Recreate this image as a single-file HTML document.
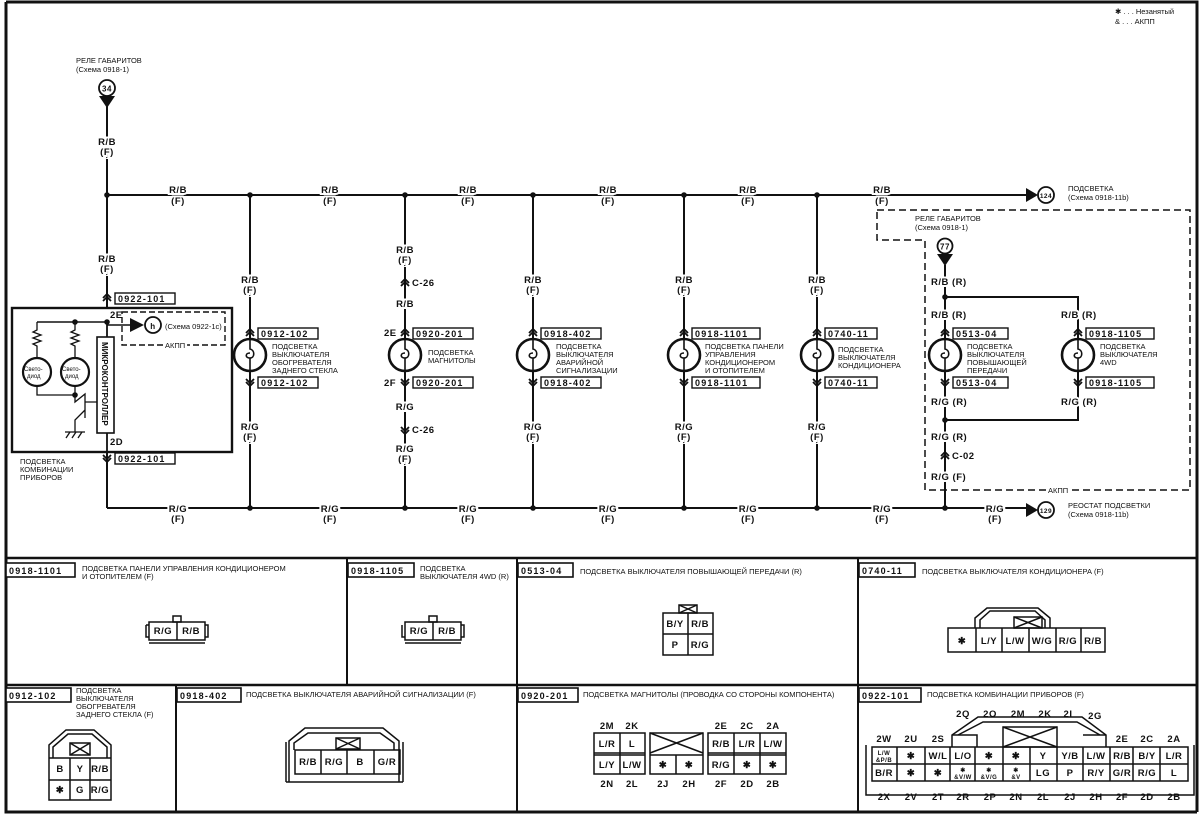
<!DOCTYPE html>
<html><head><meta charset="utf-8"><style>
html,body{margin:0;padding:0;background:#fff}
svg{display:block}
text{font-family:"Liberation Sans",sans-serif;fill:#111}
.c{font-weight:bold;font-size:9.5px;letter-spacing:0.5px}
.s{font-size:7.5px}
.k{font-weight:bold;font-size:9px;letter-spacing:1.2px}
</style></head><body>
<svg width="1200" height="814" viewBox="0 0 1200 814" xmlns="http://www.w3.org/2000/svg">
<defs>
<g id="up"><path d="M-4,3 L0,-1 L4,3 M-4,0 L0,-4 L4,0" fill="none" stroke="#111" stroke-width="1.8"/></g>
<g id="dn"><path d="M-4,-3 L0,1 L4,-3 M-4,0 L0,4 L4,0" fill="none" stroke="#111" stroke-width="1.8"/></g>
<g id="bulb"><circle r="16" fill="#fff" stroke="#111" stroke-width="2.6"/><path d="M0,-16 L0,-6 C5,-5 5,3 0,3 C-5,3 -5,-2 0,-2 M0,3 L0,16" fill="none" stroke="#111" stroke-width="1.6"/></g>
<g id="dot"><circle r="2.8" fill="#111"/></g>
</defs>
<g fill="none" stroke="#111">
<path d="M6,2 L1197,2 L1197,812 M6,2 L6,812 L1197,812" stroke-width="3"/>
<line x1="6" y1="558" x2="1197" y2="558" stroke-width="2.5"/>
<line x1="6" y1="685" x2="1197" y2="685" stroke-width="2.5"/>
<line x1="347" y1="558" x2="347" y2="685" stroke-width="2"/>
<line x1="517" y1="558" x2="517" y2="812" stroke-width="2"/>
<line x1="858" y1="558" x2="858" y2="812" stroke-width="2"/>
<line x1="176" y1="685" x2="176" y2="812" stroke-width="2"/>

<g stroke-width="2">
<line x1="107" y1="100" x2="107" y2="308"/>
<line x1="107" y1="452" x2="107" y2="508"/>
<line x1="107" y1="195" x2="1030" y2="195"/>
<line x1="107" y1="508" x2="1030" y2="508"/>
<line x1="250" y1="195" x2="250" y2="508"/>
<line x1="405" y1="195" x2="405" y2="508"/>
<line x1="533" y1="195" x2="533" y2="508"/>
<line x1="684" y1="195" x2="684" y2="508"/>
<line x1="817" y1="195" x2="817" y2="508"/>
<line x1="945" y1="265" x2="945" y2="508"/>
<polyline points="945,297 1078,297 1078,420 945,420"/>
</g>
<path d="M877,210 L1190,210 L1190,490 L925,490 L925,240 L877,240 Z" stroke-width="1.5" stroke-dasharray="7,4"/>
<rect x="12" y="308" width="220" height="144" stroke-width="2.4"/>
<rect x="97" y="337" width="17" height="96" stroke-width="1.6" fill="#fff"/>
<rect x="122" y="312" width="103" height="33" stroke-width="1.4" stroke-dasharray="6,3"/>
<polyline points="37,322 107,322" stroke-width="1.4"/>
<line x1="107" y1="322" x2="107" y2="337" stroke-width="1.8"/>
<line x1="107" y1="433" x2="107" y2="452" stroke-width="1.8"/>
<line x1="107" y1="325" x2="130" y2="325" stroke-width="1.4"/>
<path d="M37,322 L37,330 L33,332 L41,335 L33,338 L41,341 L33,344 L37,346 L37,358 M75,322 L75,330 L71,332 L79,335 L71,338 L79,341 L71,344 L75,346 L75,358" stroke-width="1.3"/>
<circle cx="37" cy="372" r="14" stroke-width="2.2"/>
<circle cx="75" cy="372" r="14" stroke-width="2.2"/>
<path d="M37,386 L37,395 L75,395 M75,386 L75,402 L85,394 L85,418 M85,402 L97,402 M85,410 L75,420 L75,432 M65,432 L85,432 M66,438 L70,432 M72,438 L76,432 M78,438 L82,432" stroke-width="1.3"/>
<circle cx="153" cy="325" r="8" stroke-width="1.8"/>
<circle cx="107" cy="88" r="8" stroke-width="1.8"/>
<circle cx="945" cy="246" r="7.5" stroke-width="1.8"/>
<circle cx="1046" cy="195" r="8" stroke-width="1.8"/>
<circle cx="1046" cy="510" r="8" stroke-width="1.8"/>
</g>
<g fill="#111">
<path d="M99,96 L115,96 L107,108 Z"/>
<path d="M937,254 L953,254 L945,266 Z"/>
<path d="M1026,188 L1038,195 L1026,202 Z"/>
<path d="M1026,503 L1038,510 L1026,517 Z"/>
<path d="M130,318 L144,325 L130,332 Z"/>
</g>
<use href="#dot" x="107" y="195"/><use href="#dot" x="250" y="195"/><use href="#dot" x="405" y="195"/><use href="#dot" x="533" y="195"/><use href="#dot" x="684" y="195"/><use href="#dot" x="817" y="195"/>
<use href="#dot" x="250" y="508"/><use href="#dot" x="405" y="508"/><use href="#dot" x="533" y="508"/><use href="#dot" x="684" y="508"/><use href="#dot" x="817" y="508"/><use href="#dot" x="945" y="508"/>
<use href="#dot" x="945" y="297"/><use href="#dot" x="945" y="420"/><use href="#dot" x="75" y="322"/><use href="#dot" x="107" y="322"/><use href="#dot" x="75" y="395"/>
<use href="#bulb" x="250" y="355"/><use href="#bulb" x="405" y="355"/><use href="#bulb" x="533" y="355"/><use href="#bulb" x="684" y="355"/><use href="#bulb" x="817" y="355"/><use href="#bulb" x="945" y="355"/><use href="#bulb" x="1078" y="355"/>
<use href="#up" x="107" y="298"/><use href="#dn" x="107" y="458"/>
<use href="#up" x="250" y="333"/><use href="#dn" x="250" y="382"/>
<use href="#up" x="405" y="283"/><use href="#up" x="405" y="333"/><use href="#dn" x="405" y="382"/><use href="#dn" x="405" y="430"/>
<use href="#up" x="533" y="333"/><use href="#dn" x="533" y="382"/>
<use href="#up" x="684" y="333"/><use href="#dn" x="684" y="382"/>
<use href="#up" x="817" y="333"/><use href="#dn" x="817" y="382"/>
<use href="#up" x="945" y="333"/><use href="#dn" x="945" y="382"/>
<use href="#up" x="1078" y="333"/><use href="#dn" x="1078" y="382"/>
<use href="#up" x="945" y="456"/>
<g fill="#fff" stroke="#111" stroke-width="1.4">
<rect x="115" y="293" width="60" height="11"/><rect x="115" y="453" width="60" height="11"/>
<rect x="258" y="328" width="60" height="11"/><rect x="258" y="377" width="60" height="11"/>
<rect x="413" y="328" width="60" height="11"/><rect x="413" y="377" width="60" height="11"/>
<rect x="541" y="328" width="60" height="11"/><rect x="541" y="377" width="60" height="11"/>
<rect x="692" y="328" width="68" height="11"/><rect x="692" y="377" width="68" height="11"/>
<rect x="825" y="328" width="52" height="11"/><rect x="825" y="377" width="52" height="11"/>
<rect x="953" y="328" width="55" height="11"/><rect x="953" y="377" width="55" height="11"/>
<rect x="1086" y="328" width="68" height="11"/><rect x="1086" y="377" width="68" height="11"/>
</g>
<g class="k">
<text x="118" y="302">0922-101</text><text x="118" y="462">0922-101</text>
<text x="261" y="337">0912-102</text><text x="261" y="386">0912-102</text>
<text x="416" y="337">0920-201</text><text x="416" y="386">0920-201</text>
<text x="544" y="337">0918-402</text><text x="544" y="386">0918-402</text>
<text x="695" y="337">0918-1101</text><text x="695" y="386">0918-1101</text>
<text x="828" y="337">0740-11</text><text x="828" y="386">0740-11</text>
<text x="956" y="337">0513-04</text><text x="956" y="386">0513-04</text>
<text x="1089" y="337">0918-1105</text><text x="1089" y="386">0918-1105</text>
</g>
<g class="c" text-anchor="middle" stroke="#fff" stroke-width="4" paint-order="stroke">
<text x="107" y="145">R/B</text><text x="107" y="155">(F)</text>
<text x="107" y="262">R/B</text><text x="107" y="272">(F)</text>
<text x="178" y="193">R/B</text><text x="178" y="204">(F)</text>
<text x="330" y="193">R/B</text><text x="330" y="204">(F)</text>
<text x="468" y="193">R/B</text><text x="468" y="204">(F)</text>
<text x="608" y="193">R/B</text><text x="608" y="204">(F)</text>
<text x="748" y="193">R/B</text><text x="748" y="204">(F)</text>
<text x="882" y="193">R/B</text><text x="882" y="204">(F)</text>
<text x="178" y="512">R/G</text><text x="178" y="522">(F)</text>
<text x="330" y="512">R/G</text><text x="330" y="522">(F)</text>
<text x="468" y="512">R/G</text><text x="468" y="522">(F)</text>
<text x="608" y="512">R/G</text><text x="608" y="522">(F)</text>
<text x="748" y="512">R/G</text><text x="748" y="522">(F)</text>
<text x="882" y="512">R/G</text><text x="882" y="522">(F)</text>
<text x="995" y="512">R/G</text><text x="995" y="522">(F)</text>
<text x="250" y="283">R/B</text><text x="250" y="293">(F)</text>
<text x="250" y="430">R/G</text><text x="250" y="440">(F)</text>
<text x="405" y="253">R/B</text><text x="405" y="263">(F)</text>
<text x="405" y="307">R/B</text>
<text x="405" y="410">R/G</text>
<text x="405" y="452">R/G</text><text x="405" y="462">(F)</text>
<text x="533" y="283">R/B</text><text x="533" y="293">(F)</text>
<text x="533" y="430">R/G</text><text x="533" y="440">(F)</text>
<text x="684" y="283">R/B</text><text x="684" y="293">(F)</text>
<text x="684" y="430">R/G</text><text x="684" y="440">(F)</text>
<text x="817" y="283">R/B</text><text x="817" y="293">(F)</text>
<text x="817" y="430">R/G</text><text x="817" y="440">(F)</text>
</g>
<g class="c" stroke="#fff" stroke-width="4" paint-order="stroke">
<text x="931" y="285">R/B (R)</text>
<text x="931" y="318">R/B (R)</text><text x="1061" y="318">R/B (R)</text>
<text x="931" y="405">R/G (R)</text><text x="1061" y="405">R/G (R)</text>
<text x="931" y="440">R/G (R)</text>
<text x="931" y="480">R/G (F)</text>
</g>
<g class="c">
<text x="412" y="286">C-26</text><text x="412" y="433">C-26</text>
<text x="952" y="459">C-02</text>
<text x="384" y="336">2E</text><text x="384" y="386">2F</text>
<text x="110" y="318">2E</text><text x="110" y="445">2D</text>
<text x="107" y="91.5" text-anchor="middle" font-size="8">34</text>
<text x="945" y="249.5" text-anchor="middle" font-size="8">77</text>
<text x="1046" y="198" text-anchor="middle" font-size="6.5">124</text>
<text x="1046" y="513" text-anchor="middle" font-size="6.5">129</text>
<text x="153" y="329" text-anchor="middle" font-size="8">h</text>
</g>
<g class="s">
<text x="76" y="63">РЕЛЕ ГАБАРИТОВ</text><text x="76" y="72">(Схема 0918-1)</text>
<text x="1068" y="191">ПОДСВЕТКА</text><text x="1068" y="200">(Схема 0918-11b)</text>
<text x="1068" y="508">РЕОСТАТ ПОДСВЕТКИ</text><text x="1068" y="517">(Схема 0918-11b)</text>
<text x="915" y="221">РЕЛЕ ГАБАРИТОВ</text><text x="915" y="230">(Схема 0918-1)</text>
<text x="1048" y="493" stroke="#fff" stroke-width="5" paint-order="stroke">АКПП</text>
<text x="165" y="329">(Схема 0922-1с)</text>
<text x="165" y="348" stroke="#fff" stroke-width="5" paint-order="stroke">АКПП</text>
<text x="20" y="464">ПОДСВЕТКА</text><text x="20" y="472">КОМБИНАЦИИ</text><text x="20" y="480">ПРИБОРОВ</text>
<text x="272" y="349">ПОДСВЕТКА</text><text x="272" y="357">ВЫКЛЮЧАТЕЛЯ</text><text x="272" y="365">ОБОГРЕВАТЕЛЯ</text><text x="272" y="373">ЗАДНЕГО СТЕКЛА</text>
<text x="428" y="355">ПОДСВЕТКА</text><text x="428" y="363">МАГНИТОЛЫ</text>
<text x="556" y="349">ПОДСВЕТКА</text><text x="556" y="357">ВЫКЛЮЧАТЕЛЯ</text><text x="556" y="365">АВАРИЙНОЙ</text><text x="556" y="373">СИГНАЛИЗАЦИИ</text>
<text x="705" y="349">ПОДСВЕТКА ПАНЕЛИ</text><text x="705" y="357">УПРАВЛЕНИЯ</text><text x="705" y="365">КОНДИЦИОНЕРОМ</text><text x="705" y="373">И ОТОПИТЕЛЕМ</text>
<text x="838" y="352">ПОДСВЕТКА</text><text x="838" y="360">ВЫКЛЮЧАТЕЛЯ</text><text x="838" y="368">КОНДИЦИОНЕРА</text>
<text x="967" y="349">ПОДСВЕТКА</text><text x="967" y="357">ВЫКЛЮЧАТЕЛЯ</text><text x="967" y="365">ПОВЫШАЮЩЕЙ</text><text x="967" y="373">ПЕРЕДАЧИ</text>
<text x="1100" y="349">ПОДСВЕТКА</text><text x="1100" y="357">ВЫКЛЮЧАТЕЛЯ</text><text x="1100" y="365">4WD</text>
<text x="1115" y="14">✱ . . . Незанятый</text><text x="1115" y="24">&amp; . . . АКПП</text>
<text x="24" y="371" font-size="6">Свето-</text><text x="27" y="378" font-size="6">диод</text>
<text x="62" y="371" font-size="6">Свето-</text><text x="65" y="378" font-size="6">диод</text>
</g>
<text transform="translate(102,342) rotate(90)" font-size="8" font-weight="bold">МИКРОКОНТРОЛЛЕР</text>

<g fill="#fff" stroke="#111" stroke-width="1.6">
<rect x="6" y="563" width="69" height="14"/><rect x="348" y="563" width="66" height="14"/>
<rect x="518" y="563" width="55" height="14"/><rect x="859" y="563" width="56" height="14"/>
<rect x="6" y="688" width="65" height="14"/><rect x="177" y="688" width="64" height="14"/>
<rect x="518" y="688" width="60" height="14"/><rect x="859" y="688" width="62" height="14"/>
</g>
<g class="k">
<text x="9" y="574">0918-1101</text><text x="351" y="574">0918-1105</text><text x="521" y="574">0513-04</text><text x="862" y="574">0740-11</text>
<text x="9" y="699">0912-102</text><text x="180" y="699">0918-402</text><text x="521" y="699">0920-201</text><text x="862" y="699">0922-101</text>
</g>
<g class="s">
<text x="82" y="571">ПОДСВЕТКА ПАНЕЛИ УПРАВЛЕНИЯ КОНДИЦИОНЕРОМ</text><text x="82" y="579">И ОТОПИТЕЛЕМ (F)</text>
<text x="420" y="571">ПОДСВЕТКА</text><text x="420" y="579">ВЫКЛЮЧАТЕЛЯ 4WD (R)</text>
<text x="580" y="574">ПОДСВЕТКА ВЫКЛЮЧАТЕЛЯ ПОВЫШАЮЩЕЙ ПЕРЕДАЧИ (R)</text>
<text x="922" y="574">ПОДСВЕТКА ВЫКЛЮЧАТЕЛЯ КОНДИЦИОНЕРА (F)</text>
<text x="76" y="693">ПОДСВЕТКА</text><text x="76" y="701">ВЫКЛЮЧАТЕЛЯ</text><text x="76" y="709">ОБОГРЕВАТЕЛЯ</text><text x="76" y="717">ЗАДНЕГО СТЕКЛА (F)</text>
<text x="246" y="697">ПОДСВЕТКА ВЫКЛЮЧАТЕЛЯ АВАРИЙНОЙ СИГНАЛИЗАЦИИ (F)</text>
<text x="583" y="697">ПОДСВЕТКА МАГНИТОЛЫ (ПРОВОДКА СО СТОРОНЫ КОМПОНЕНТА)</text>
<text x="927" y="697">ПОДСВЕТКА КОМБИНАЦИИ ПРИБОРОВ (F)</text>
</g>

<g fill="none" stroke="#111" stroke-width="1.5">
<rect x="149" y="622" width="56" height="18"/><line x1="177" y1="622" x2="177" y2="640"/><line x1="149" y1="643" x2="205" y2="643"/>
<rect x="173" y="616" width="8" height="6"/><path d="M146,625 L149,625 M146,625 L146,637 L149,637 M205,625 L208,625 L208,637 L205,637"/>
<rect x="405" y="622" width="56" height="18"/><line x1="433" y1="622" x2="433" y2="640"/><line x1="405" y1="643" x2="461" y2="643"/>
<rect x="429" y="616" width="8" height="6"/><path d="M402,625 L402,637 L405,637 M461,625 L464,625 L464,637 L461,637"/>
<rect x="663" y="613" width="50" height="42"/><line x1="688" y1="613" x2="688" y2="655"/><line x1="663" y1="634" x2="713" y2="634"/>
<rect x="679" y="605" width="18" height="8"/><path d="M679,605 L697,613 M697,605 L679,613"/>
<rect x="948" y="628" width="157" height="24"/>
<path d="M975,628 V618 L987,608 H1038 L1050,618 V628 M980,628 V620 L990,611 H1035 L1045,620 V628"/>
<line x1="976" y1="628" x2="976" y2="652"/><line x1="1002" y1="628" x2="1002" y2="652"/><line x1="1029" y1="628" x2="1029" y2="652"/><line x1="1056" y1="628" x2="1056" y2="652"/><line x1="1081" y1="628" x2="1081" y2="652"/>
<rect x="1014" y="617" width="28" height="11"/><path d="M1014,617 L1042,628 M1042,617 L1014,628"/>
<path d="M49,800 V745 L66,730 H94 L111,745 V800 Z M53,758 V747 L68,734 H92 L107,747 V758"/>
<line x1="49" y1="758" x2="111" y2="758"/><line x1="49" y1="780" x2="111" y2="780"/>
<line x1="70" y1="758" x2="70" y2="800"/><line x1="90" y1="758" x2="90" y2="800"/>
<rect x="70" y="743" width="20" height="12"/><path d="M70,743 L90,755 M90,743 L70,755"/>
<path d="M289,782 V741 L305,728 H383 L399,741 V782 Z M294,750 V743 L308,733 H380 L394,743 V750 M286,782 H403 M286,742 V782 M403,742 V782"/>
<rect x="295" y="750" width="105" height="24"/>
<line x1="321" y1="750" x2="321" y2="774"/><line x1="347" y1="750" x2="347" y2="774"/><line x1="374" y1="750" x2="374" y2="774"/>
<rect x="336" y="738" width="24" height="11"/><path d="M336,738 L360,749 M360,738 L336,749"/>
<rect x="594" y="733" width="51" height="41"/><line x1="620" y1="733" x2="620" y2="774"/><line x1="594" y1="753" x2="645" y2="753"/><line x1="594" y1="755" x2="645" y2="755"/>
<rect x="650" y="733" width="53" height="41"/><line x1="676" y1="755" x2="676" y2="774"/><line x1="650" y1="755" x2="703" y2="755"/><path d="M650,733 L703,753 M703,733 L650,753"/>
<rect x="708" y="733" width="78" height="41"/><line x1="734" y1="733" x2="734" y2="774"/><line x1="760" y1="733" x2="760" y2="774"/><line x1="708" y1="753" x2="786" y2="753"/><line x1="708" y1="755" x2="786" y2="755"/>
<rect x="872" y="747" width="316" height="34"/>
<path d="M866,745 V795 H1194 V745"/>
<path d="M952,747 V735 L978,717 H1082 L1106,735 V747 M958,735 L983,722 H1077 L1100,735"/>
<path d="M952,735 H977 V747 M1083,735 H1106"/>
<rect x="1003" y="727" width="54" height="20"/><path d="M1003,727 L1057,747 M1057,727 L1003,747"/>
<line x1="872" y1="764" x2="1188" y2="764"/>
<line x1="897" y1="747" x2="897" y2="781"/><line x1="925" y1="747" x2="925" y2="781"/><line x1="950" y1="747" x2="950" y2="781"/><line x1="975" y1="747" x2="975" y2="781"/><line x1="1003" y1="747" x2="1003" y2="781"/><line x1="1030" y1="747" x2="1030" y2="781"/><line x1="1057" y1="747" x2="1057" y2="781"/><line x1="1083" y1="747" x2="1083" y2="781"/><line x1="1110" y1="747" x2="1110" y2="781"/><line x1="1133" y1="747" x2="1133" y2="781"/><line x1="1160" y1="747" x2="1160" y2="781"/>
</g>
<g class="c" text-anchor="middle" font-size="8.5">
<text x="163" y="634">R/G</text><text x="191" y="634">R/B</text>
<text x="419" y="634">R/G</text><text x="447" y="634">R/B</text>
<text x="675" y="627">B/Y</text><text x="700" y="627">R/B</text><text x="675" y="648">P</text><text x="700" y="648">R/G</text>
<text x="962" y="644">✱</text><text x="989" y="644">L/Y</text><text x="1015" y="644">L/W</text><text x="1042" y="644">W/G</text><text x="1068" y="644">R/G</text><text x="1093" y="644">R/B</text>
<text x="60" y="772">B</text><text x="80" y="772">Y</text><text x="100" y="772">R/B</text>
<text x="60" y="793">✱</text><text x="80" y="793">G</text><text x="100" y="793">R/G</text>
<text x="308" y="765">R/B</text><text x="334" y="765">R/G</text><text x="360" y="765">B</text><text x="387" y="765">G/R</text>
<text x="607" y="729">2M</text><text x="632" y="729">2K</text><text x="721" y="729">2E</text><text x="747" y="729">2C</text><text x="773" y="729">2A</text>
<text x="607" y="747">L/R</text><text x="632" y="747">L</text><text x="721" y="747">R/B</text><text x="747" y="747">L/R</text><text x="773" y="747">L/W</text>
<text x="607" y="768">L/Y</text><text x="632" y="768">L/W</text><text x="663" y="768">✱</text><text x="689" y="768">✱</text><text x="721" y="768">R/G</text><text x="747" y="768">✱</text><text x="773" y="768">✱</text>
<text x="607" y="787">2N</text><text x="632" y="787">2L</text><text x="663" y="787">2J</text><text x="689" y="787">2H</text><text x="721" y="787">2F</text><text x="747" y="787">2D</text><text x="773" y="787">2B</text>
<text x="963" y="717">2Q</text><text x="990" y="717">2O</text><text x="1018" y="717">2M</text><text x="1045" y="717">2K</text><text x="1068" y="717">2I</text><text x="1095" y="719">2G</text>
<text x="884" y="742">2W</text><text x="911" y="742">2U</text><text x="938" y="742">2S</text><text x="1122" y="742">2E</text><text x="1147" y="742">2C</text><text x="1174" y="742">2A</text>
<text x="884" y="755" font-size="6">L/W</text><text x="884" y="762" font-size="6">&amp;P/B</text>
<text x="911" y="759">✱</text><text x="938" y="759">W/L</text><text x="963" y="759">L/O</text><text x="989" y="759">✱</text><text x="1016" y="759">✱</text><text x="1043" y="759">Y</text><text x="1070" y="759">Y/B</text><text x="1096" y="759">L/W</text><text x="1122" y="759">R/B</text><text x="1147" y="759">B/Y</text><text x="1174" y="759">L/R</text>
<text x="884" y="776">B/R</text><text x="911" y="776">✱</text><text x="938" y="776">✱</text>
<text x="963" y="772" font-size="6">✱</text><text x="963" y="779" font-size="6">&amp;V/W</text>
<text x="989" y="772" font-size="6">✱</text><text x="989" y="779" font-size="6">&amp;V/G</text>
<text x="1016" y="772" font-size="6">✱</text><text x="1016" y="779" font-size="6">&amp;V</text>
<text x="1043" y="776">LG</text><text x="1070" y="776">P</text><text x="1096" y="776">R/Y</text><text x="1122" y="776">G/R</text><text x="1147" y="776">R/G</text><text x="1174" y="776">L</text>
<text x="884" y="800">2X</text><text x="911" y="800">2V</text><text x="938" y="800">2T</text><text x="963" y="800">2R</text><text x="990" y="800">2P</text><text x="1016" y="800">2N</text><text x="1043" y="800">2L</text><text x="1070" y="800">2J</text><text x="1096" y="800">2H</text><text x="1122" y="800">2F</text><text x="1147" y="800">2D</text><text x="1174" y="800">2B</text>
</g>
</svg>
</body></html>
